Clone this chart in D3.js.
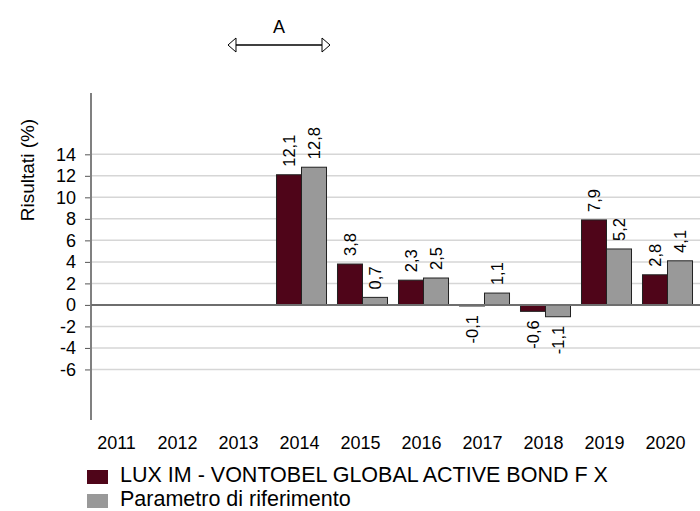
<!DOCTYPE html>
<html>
<head>
<meta charset="utf-8">
<script src="https://cdn.jsdelivr.net/npm/d3@7"></script>
<style>
  body { margin: 0; background: #fff; }
  svg text { font-family: "Liberation Sans", Arial, sans-serif; fill: #000; }
</style>
</head>
<body>
<svg id="chart" width="700" height="511"></svg>
<script>
var years = ["2011", "2012", "2013", "2014", "2015", "2016", "2017", "2018", "2019", "2020"];
var fundValues = [null, null, null, 12.1, 3.8, 2.3, -0.1, -0.6, 7.9, 2.8];
var benchValues = [null, null, null, 12.8, 0.7, 2.5, 1.1, -1.1, 5.2, 4.1];
var yTicks = [-6, -4, -2, 0, 2, 4, 6, 8, 10, 12, 14];
var seriesNames = ["LUX IM - VONTOBEL GLOBAL ACTIVE BOND F X", "Parametro di riferimento"];
var seriesColors = ["#4f0519", "#999999"];

var svg = d3.select("#chart");

var x0 = d3.scaleBand()
  .domain(years)
  .range([88, 698])
  .paddingInner(0.18)
  .paddingOuter(0.09);

var x1 = d3.scaleBand()
  .domain([0, 1])
  .range([0, x0.bandwidth()]);

var y = d3.scaleLinear()
  .domain([-10.7, 19.7])
  .range([420, 93]);

// grid lines
svg.append("g")
  .selectAll("line")
  .data(yTicks.filter(d => d !== 0))
  .enter().append("line")
  .attr("x1", 91).attr("x2", 700)
  .attr("y1", d => y(d)).attr("y2", d => y(d))
  .attr("stroke", "#d6d6d6")
  .attr("stroke-width", 1.5);

// y axis
var yAxis = d3.axisLeft(y).tickValues(yTicks).tickSize(6).tickPadding(9)
  .tickFormat(d => String(d));
var yG = svg.append("g")
  .attr("transform", "translate(91,0)")
  .call(yAxis);
yG.select(".domain").remove();
yG.selectAll(".tick line").attr("stroke", "#555").attr("stroke-width", 1);
yG.selectAll(".tick text")
  .style("font-size", "18px")
  .attr("font-family", null);

svg.append("line")
  .attr("x1", 91).attr("x2", 91)
  .attr("y1", 93).attr("y2", 420)
  .attr("stroke", "#808080")
  .attr("stroke-width", 2);

// bars
var rows = years.map((yr, i) => ({ year: yr, values: [fundValues[i], benchValues[i]] }));

var groups = svg.append("g")
  .selectAll("g")
  .data(rows)
  .enter().append("g")
  .attr("transform", d => "translate(" + x0(d.year) + ",0)");

var cells = groups.selectAll("g")
  .data(d => d.values.map((v, k) => ({ k: k, v: v })).filter(e => e.v !== null))
  .enter().append("g");

cells.append("rect")
  .attr("x", d => x1(d.k))
  .attr("width", x1.bandwidth())
  .attr("y", d => y(Math.max(0, d.v)))
  .attr("height", d => Math.abs(y(d.v) - y(0)))
  .attr("fill", d => seriesColors[d.k])
  .attr("stroke", "#222")
  .attr("stroke-width", 1);

cells.append("text")
  .attr("transform", d => {
    var cx = x1(d.k) + x1.bandwidth() / 2;
    var cy = d.v >= 0 ? y(d.v) - 8 : y(d.v) + 9;
    return "translate(" + cx + "," + cy + ") rotate(-90)";
  })
  .attr("dy", "0.35em")
  .attr("text-anchor", d => d.v >= 0 ? "start" : "end")
  .style("font-size", "16.5px")
  .text(d => String(d.v).replace(".", ","));

// zero line
svg.append("line")
  .attr("x1", 91).attr("x2", 700)
  .attr("y1", y(0)).attr("y2", y(0))
  .attr("stroke", "#6e6e6e")
  .attr("stroke-width", 2);

// x labels
svg.append("g")
  .selectAll("text")
  .data(years)
  .enter().append("text")
  .attr("x", d => x0(d) + x0.bandwidth() / 2 - 2)
  .attr("y", 449)
  .attr("text-anchor", "middle")
  .style("font-size", "18px")
  .text(d => d);

// y title
svg.append("text")
  .attr("transform", "translate(34,170) rotate(-90)")
  .attr("text-anchor", "middle")
  .style("font-size", "19px")
  .text("Risultati (%)");

// annotation arrow
var ax1 = x0("2013") + 12.5;
var ax2 = x0("2014") + x0.bandwidth() + 3.5;
var ay = 45;
svg.append("line")
  .attr("x1", ax1 + 8).attr("x2", ax2 - 8)
  .attr("y1", ay).attr("y2", ay)
  .attr("stroke", "#000").attr("stroke-width", 1.3);
svg.append("path")
  .attr("d", "M" + ax1 + "," + ay + "L" + (ax1 + 8) + "," + (ay - 7) + "L" + (ax1 + 8) + "," + (ay + 7) + "Z")
  .attr("fill", "#fff").attr("stroke", "#000").attr("stroke-width", 1);
svg.append("path")
  .attr("d", "M" + ax2 + "," + ay + "L" + (ax2 - 8) + "," + (ay - 7) + "L" + (ax2 - 8) + "," + (ay + 7) + "Z")
  .attr("fill", "#fff").attr("stroke", "#000").attr("stroke-width", 1);
svg.append("text")
  .attr("x", (ax1 + ax2) / 2)
  .attr("y", 33)
  .attr("text-anchor", "middle")
  .style("font-size", "18px")
  .text("A");

// legend
var legend = svg.append("g")
  .selectAll("g")
  .data(seriesNames)
  .enter().append("g")
  .attr("transform", (d, i) => "translate(0," + (i * 24) + ")");
legend.append("rect")
  .attr("x", 87).attr("y", 470)
  .attr("width", 21).attr("height", 14)
  .attr("fill", (d, i) => seriesColors[i]);
legend.append("text")
  .attr("x", 120).attr("y", 482)
  .style("font-size", "21.5px")
  .text(d => d);
</script>
</body>
</html>
